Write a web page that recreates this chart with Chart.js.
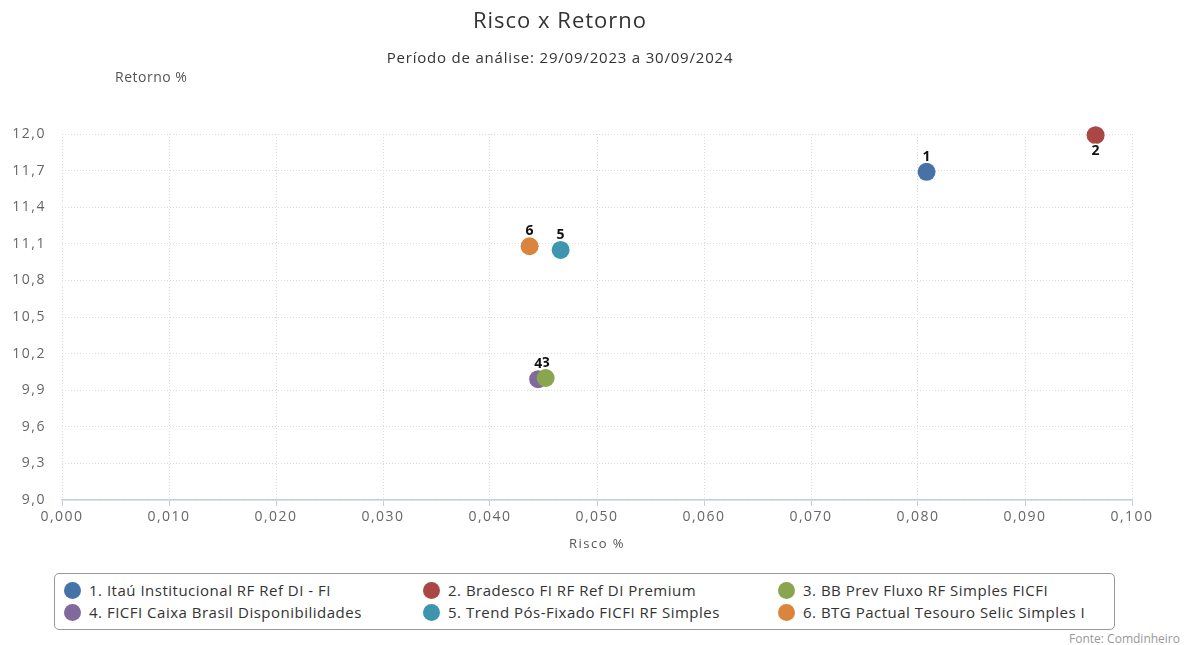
<!DOCTYPE html>
<html>
<head>
<meta charset="utf-8">
<script src="https://cdn.jsdelivr.net/npm/chart.js@4"></script>
<style>
  body { margin: 0; background: #fff; font-family: "Open Sans", sans-serif; }
  #page { position: relative; width: 1186px; height: 645px; overflow: hidden; }
  #wrap { position: absolute; left: 0; top: 0; width: 1186px; height: 560px; }
  .title { position: absolute; left: 0; width: 1120px; text-align: center; color: #333; }
  #title { top: 4px; font-size: 22px; letter-spacing: 1px; }
  #subtitle { top: 47px; font-size: 15px; letter-spacing: 0.8px; }
  #yTitle { position: absolute; left: 115px; top: 67px; font-size: 14px; letter-spacing: 0.5px; color: #555; }
  #legend { position: absolute; left: 54px; top: 573px; width: 1061px; height: 57px; box-sizing: border-box;
            border: 1px solid #999; border-radius: 5px; }
  .item { position: absolute; height: 22px; display: flex; align-items: center; font-size: 15px; letter-spacing: 0.5px;
          color: #333; white-space: nowrap; }
  .dot { width: 17px; height: 17px; border-radius: 50%; margin-right: 8px; }
  #source { position: absolute; right: 6px; top: 630px; font-size: 12px; color: #999; }
</style>
</head>
<body>
<div id="page">
  <div id="wrap"><canvas id="myChart"></canvas></div>
  <div class="title" id="title">Risco x Retorno</div>
  <div class="title" id="subtitle">Período de análise: 29/09/2023 a 30/09/2024</div>
  <div id="yTitle">Retorno %</div>
  <div id="legend"></div>
  <div id="source">Fonte: Comdinheiro</div>
</div>
<script>
const fundNames = [
  '1. Itaú Institucional RF Ref DI - FI',
  '2. Bradesco FI RF Ref DI Premium',
  '3. BB Prev Fluxo RF Simples FICFI',
  '4. FICFI Caixa Brasil Disponibilidades',
  '5. Trend Pós-Fixado FICFI RF Simples',
  '6. BTG Pactual Tesouro Selic Simples I'
];
const pointLabels = ['1', '2', '3', '4', '5', '6'];
const risco = [0.0808, 0.0966, 0.0452, 0.0445, 0.0466, 0.0437];
const retorno = [11.69, 11.99, 10.00, 9.99, 11.05, 11.08];
const colors = ['#4572A7', '#AA4643', '#89A54E', '#80699B', '#3D96AE', '#DB843D'];
const xTicks = [0, 0.01, 0.02, 0.03, 0.04, 0.05, 0.06, 0.07, 0.08, 0.09, 0.1];
const yTicks = [9.0, 9.3, 9.6, 9.9, 10.2, 10.5, 10.8, 11.1, 11.4, 11.7, 12.0];

// legenda em HTML, em duas linhas de tres colunas
const legend = document.getElementById('legend');
const colLeft = [9, 368, 723];
fundNames.forEach((name, i) => {
  const item = document.createElement('div');
  item.className = 'item';
  item.style.left = colLeft[i % 3] + 'px';
  item.style.top = (5 + Math.floor(i / 3) * 22) + 'px';
  item.innerHTML = `<span class="dot" style="background:${colors[i]}"></span>${name}`;
  legend.appendChild(item);
});

// espacamento das letras dos eixos
const spacingPlugin = {
  id: 'spacing',
  beforeDraw(chart) { chart.ctx.letterSpacing = '1.5px'; }
};

// numeros em cima dos pontos
const pointLabelPlugin = {
  id: 'pointLabels',
  afterDatasetsDraw(chart) {
    const ctx = chart.ctx;
    ctx.save();
    ctx.letterSpacing = '0px';
    ctx.font = 'bold 14px "Open Sans", sans-serif';
    ctx.textAlign = 'center';
    ctx.textBaseline = 'middle';
    ctx.lineJoin = 'round';
    chart.data.datasets.forEach((ds, i) => {
      chart.getDatasetMeta(i).data.forEach(pt => {
        let y = pt.y - 15;
        if (y - 8 < chart.chartArea.top) y = pt.y + 16;
        ctx.lineWidth = 3;
        ctx.strokeStyle = '#fff';
        ctx.strokeText(pointLabels[i], pt.x, y);
        ctx.fillStyle = '#111';
        ctx.fillText(pointLabels[i], pt.x, y);
      });
    });
    ctx.restore();
  }
};

const ctx = document.getElementById('myChart');
new Chart(ctx, {
  type: 'scatter',
  data: {
    datasets: fundNames.map((name, i) => ({
      label: name,
      data: [{ x: risco[i], y: retorno[i] }],
      backgroundColor: colors[i],
      borderColor: colors[i],
      pointRadius: 9,
      pointBorderWidth: 0,
      clip: false
    }))
  },
  options: {
    responsive: true,
    maintainAspectRatio: false,
    animation: false,
    layout: { padding: { left: 0, right: 54, top: 134, bottom: 0 } },
    plugins: { legend: { display: false }, tooltip: { enabled: false } },
    scales: {
      x: {
        min: 0, max: 0.1,
        afterBuildTicks: s => { s.ticks = xTicks.map(v => ({ value: v })); },
        afterFit: s => { s.height = 60; },
        grid: { color: '#dcdcdc', tickColor: '#C0D0E0', tickLength: 6 },
        border: { color: '#C0D0E0', width: 1.5, dash: [1, 2] },
        ticks: {
          color: '#666', font: { size: 14, family: '"Open Sans", sans-serif' }, padding: 3, maxRotation: 0,
          callback: v => v.toFixed(3).replace('.', ',')
        },
        title: {
          display: true, text: 'Risco %', color: '#555',
          font: { size: 13, family: '"Open Sans", sans-serif' }, padding: { top: 8, bottom: 8 }
        }
      },
      y: {
        min: 9, max: 12,
        afterBuildTicks: s => { s.ticks = yTicks.map(v => ({ value: v })); },
        afterFit: s => { s.width = 62; },
        grid: { color: '#dcdcdc', drawTicks: false },
        border: { display: false, dash: [1, 2] },
        ticks: {
          color: '#666', font: { size: 14, family: '"Open Sans", sans-serif' }, padding: 16,
          callback: v => v.toFixed(1).replace('.', ',')
        }
      }
    }
  },
  plugins: [spacingPlugin, pointLabelPlugin]
});
</script>
</body>
</html>
